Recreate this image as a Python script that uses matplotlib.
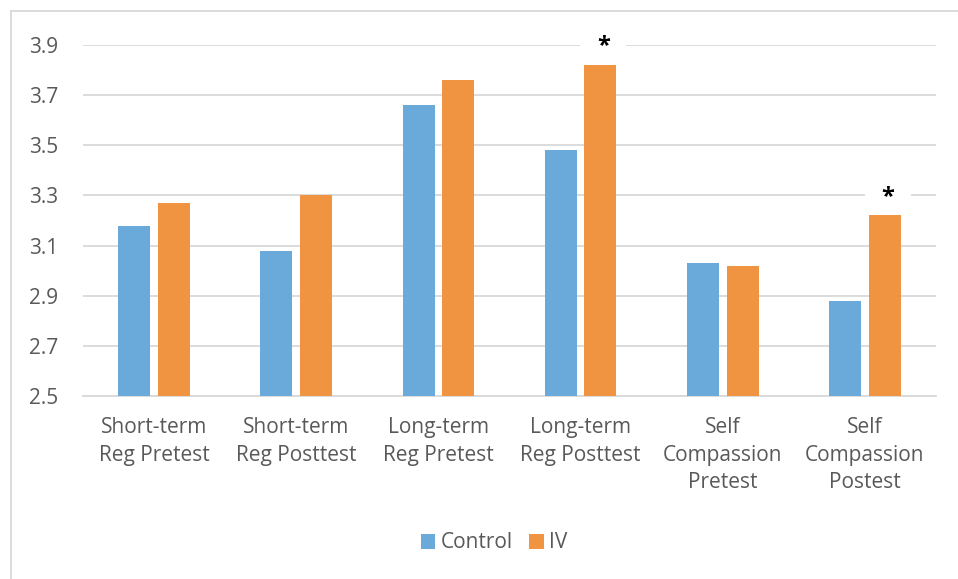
import numpy as np
import matplotlib.pyplot as plt
from matplotlib.lines import Line2D

plt.rcParams['font.family'] = ['Open Sans', 'DejaVu Sans']

categories = ['Short-term\nReg Pretest', 'Short-term\nReg Posttest', 'Long-term\nReg Pretest',
              'Long-term\nReg Posttest', 'Self\nCompassion\nPretest', 'Self\nCompassion\nPostest']
control = [3.18, 3.08, 3.66, 3.48, 3.03, 2.88]
iv = [3.27, 3.30, 3.76, 3.82, 3.02, 3.22]
significant = [False, False, False, True, False, True]

blue = '#6aaadb'
orange = '#f19442'
grid_col = '#d9d9d9'
text_col = '#595959'

fig = plt.figure(figsize=(9.58, 5.79), dpi=100)
# y range 2.5..3.9 spans pixel 396..45
ax = fig.add_axes([83 / 958, 1 - 396 / 579, (936 - 83) / 958, (396 - 45) / 579])
ax.set_ylim(2.5, 3.9)

x = np.arange(len(categories))
w = 0.225
off = 0.14
ax.bar(x - off, control, w, color=blue, label='Control', zorder=3)
ax.bar(x + off, iv, w, color=orange, label='IV', zorder=3)
ax.set_xlim(-0.5, len(categories) - 0.5)

for i, s in enumerate(significant):
    if s:
        ax.text(x[i] + off + 0.02, iv[i] + 0.075, '*', ha='center', va='center', fontsize=17,
                fontweight='bold', color='black', zorder=2,
                bbox=dict(facecolor='white', edgecolor='none', boxstyle='square,pad=0.7'))

ax.set_yticks(np.arange(2.5, 3.91, 0.2))
ax.set_yticklabels(['%.1f' % v for v in np.arange(2.5, 3.91, 0.2)])
ax.yaxis.grid(True, color=grid_col, linewidth=1.3, zorder=0)
ax.set_axisbelow(True)
for sp in ['top', 'right', 'left']:
    ax.spines[sp].set_visible(False)
ax.spines['bottom'].set_color(grid_col)
ax.spines['bottom'].set_linewidth(1.3)
ax.tick_params(axis='both', length=0, labelsize=15, colors=text_col)
ax.tick_params(axis='x', pad=15)
ax.tick_params(axis='y', pad=18)
ax.set_xticks(x)
ax.set_xticklabels(categories, linespacing=1.42)

leg = fig.legend(loc='center', bbox_to_anchor=(494 / 958, 1 - 543 / 579), ncol=2, frameon=False,
                 fontsize=15, handlelength=0.7, handleheight=0.7, columnspacing=0.8,
                 handletextpad=0.25)
for t in leg.get_texts():
    t.set_color(text_col)

# chart outer border (top and left visible)
fig.add_artist(Line2D([10.5 / 958, 1], [1 - 10.5 / 579] * 2, transform=fig.transFigure,
                      color=grid_col, linewidth=1.3))
fig.add_artist(Line2D([10.5 / 958] * 2, [0, 1 - 10.5 / 579], transform=fig.transFigure,
                      color=grid_col, linewidth=1.3))

fig.savefig('out.png', dpi=100)
